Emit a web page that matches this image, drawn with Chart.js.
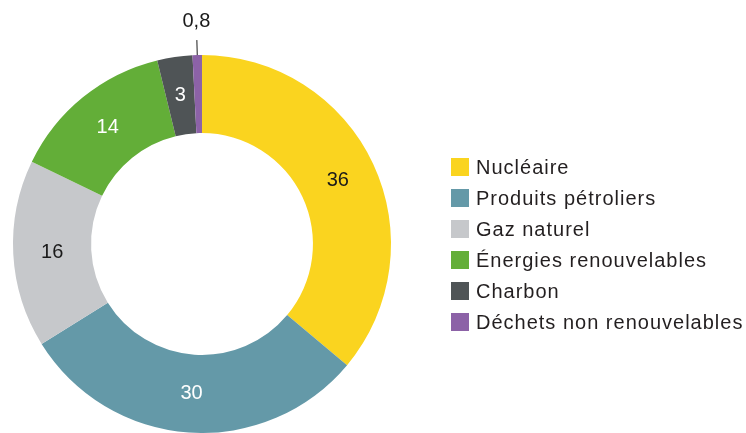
<!DOCTYPE html>
<html lang="fr">
<head>
<meta charset="utf-8">
<script src="https://cdn.jsdelivr.net/npm/chart.js@4"></script>
<style>
  body { margin: 0; background: #fff; font-family: "Liberation Sans", Arial, sans-serif; }
  #wrap { position: relative; width: 746px; height: 433px; }
  #legende { position: absolute; left: 451px; top: 158px; margin: 0; padding: 0; list-style: none; }
  #legende li { height: 31px; display: flex; align-items: flex-start; font-size: 20px; letter-spacing: 1px; color: #231f20; white-space: nowrap; }
  #legende span.box { width: 18px; height: 18px; margin-right: 7px; flex: none; }
  #legende span.txt { line-height: 18px; margin-top: 0px; }
</style>
</head>
<body>
<div id="wrap">
  <canvas id="graficoEnergie" width="746" height="433"></canvas>
  <ul id="legende"></ul>
</div>
<script>
// Données
const categories = ["Nucléaire", "Produits pétroliers", "Gaz naturel", "Énergies renouvelables", "Charbon", "Déchets non renouvelables"];
const valeurs = [36, 30, 16, 14, 3, 0.8];
const couleurs = ["#fad41f", "#6499a8", "#c6c8cb", "#63ae38", "#4f5456", "#8c62a7"];
const couleursTexte = ["#1a1a1a", "#ffffff", "#1a1a1a", "#ffffff", "#ffffff", "#1a1a1a"];

// Légende HTML
const legende = document.getElementById("legende");
categories.forEach((nom, i) => {
  const li = document.createElement("li");
  li.innerHTML = `<span class="box" style="background:${couleurs[i]}"></span><span class="txt">${nom}</span>`;
  legende.appendChild(li);
});

// Étiquettes sur les segments
const etiquettes = {
  id: "etiquettes",
  afterDatasetsDraw(chart) {
    const ctx = chart.ctx;
    const meta = chart.getDatasetMeta(0);
    ctx.save();
    ctx.font = '20px "Liberation Sans", Arial, sans-serif';
    ctx.textAlign = "center";
    ctx.textBaseline = "middle";
    meta.data.forEach((arc, i) => {
      const p = arc.getProps(["x", "y", "startAngle", "endAngle", "innerRadius", "outerRadius"]);
      const mid = (p.startAngle + p.endAngle) / 2;
      const texte = String(valeurs[i]).replace(".", ",");
      if (valeurs[i] < 2) {
        // petite valeur : étiquette à l'extérieur avec un trait
        const r1 = p.outerRadius, r2 = p.outerRadius + 15, r3 = p.outerRadius + 34;
        ctx.strokeStyle = "#1a1a1a";
        ctx.lineWidth = 1;
        ctx.beginPath();
        ctx.moveTo(p.x + Math.cos(mid) * r1, p.y + Math.sin(mid) * r1);
        ctx.lineTo(p.x + Math.cos(mid) * r2, p.y + Math.sin(mid) * r2);
        ctx.stroke();
        ctx.fillStyle = couleursTexte[i];
        ctx.fillText(texte, p.x + Math.cos(mid) * r3, p.y + Math.sin(mid) * r3);
      } else {
        const r = (p.innerRadius + p.outerRadius) / 2;
        ctx.fillStyle = couleursTexte[i];
        ctx.fillText(texte, p.x + Math.cos(mid) * r, p.y + Math.sin(mid) * r);
      }
    });
    ctx.restore();
  }
};

const ctx = document.getElementById("graficoEnergie").getContext("2d");
const graficoEnergie = new Chart(ctx, {
  type: "doughnut",
  data: {
    labels: categories,
    datasets: [{
      data: valeurs,
      backgroundColor: couleurs,
      borderWidth: 0
    }]
  },
  options: {
    responsive: false,
    animation: false,
    cutout: "58.7%",
    layout: { padding: { left: 13, right: 355, top: 55, bottom: 0 } },
    plugins: {
      legend: { display: false },
      tooltip: { enabled: false }
    }
  },
  plugins: [etiquettes]
});
</script>
</body>
</html>
